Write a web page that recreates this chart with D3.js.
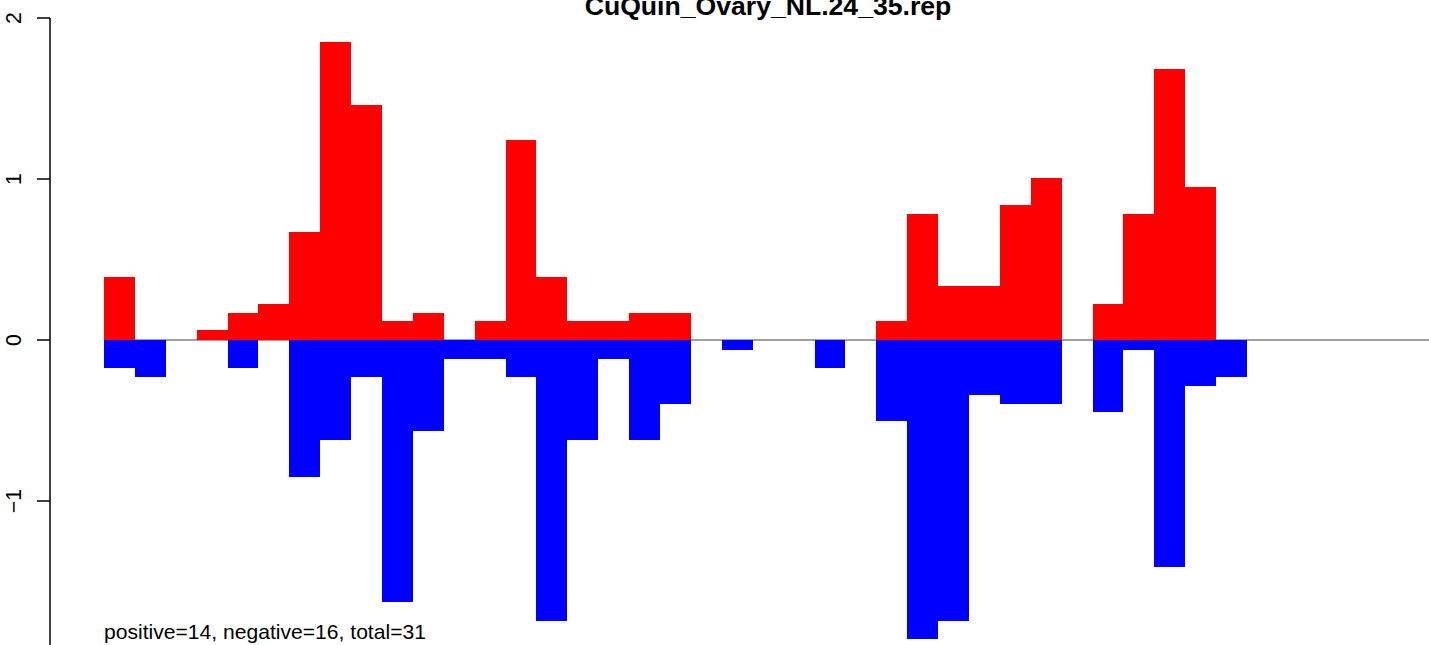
<!DOCTYPE html>
<html>
<head>
<meta charset="utf-8">
<script src="https://cdn.jsdelivr.net/npm/d3@7"></script>
<style>
  html, body { margin: 0; padding: 0; background: #fff; }
  svg { display: block; }
</style>
</head>
<body>
<svg id="chart" width="1429" height="645"></svg>
<script>
const title = "CuQuin_Ovary_NL.24_35.rep";
const footnote = "positive=14, negative=16, total=31";
const categories = d3.range(1, 38);
const positiveValues = [0.39,0,0,0.06,0.17,0.225,0.67,1.85,1.46,0.115,0.17,0,0.115,1.24,0.39,0.115,0.115,0.17,0.17,0,0,0,0,0,0,0.115,0.78,0.335,0.335,0.84,1.005,0,0.225,0.78,1.685,0.95,0];
const negativeValues = [-0.175,-0.23,0,0,-0.175,0,-0.85,-0.62,-0.23,-1.63,-0.565,-0.115,-0.115,-0.23,-1.745,-0.62,-0.115,-0.62,-0.395,0,-0.06,0,0,-0.175,0,-0.505,-1.855,-1.745,-0.34,-0.395,-0.395,0,-0.45,-0.06,-1.41,-0.285,-0.23];
const yTicks = [-1, 0, 1, 2];
const yTickLabels = ["\u22121", "0", "1", "2"];

const svg = d3.select("#chart");
const font = "'Liberation Sans', Arial, Helvetica, sans-serif";

const x = d3.scaleBand().domain(categories).range([104, 1247]).padding(0);
const y = d3.scaleLinear().domain([-1, 2]).range([501, 18]);

// zero reference line
svg.append("line")
  .attr("x1", x(categories[0])).attr("x2", 1429)
  .attr("y1", y(0)).attr("y2", y(0))
  .attr("stroke", "#808080").attr("stroke-width", 1.5);

// negative bars
svg.append("g").selectAll("rect")
  .data(categories.map((c, i) => ({c, v: negativeValues[i]})).filter(d => d.v !== 0))
  .join("rect")
  .attr("x", d => x(d.c))
  .attr("width", x.bandwidth())
  .attr("y", y(0))
  .attr("height", d => y(d.v) - y(0))
  .attr("fill", "#0000ff")
  .attr("shape-rendering", "crispEdges");

// positive bars
svg.append("g").selectAll("rect")
  .data(categories.map((c, i) => ({c, v: positiveValues[i]})).filter(d => d.v !== 0))
  .join("rect")
  .attr("x", d => x(d.c))
  .attr("width", x.bandwidth())
  .attr("y", d => y(d.v))
  .attr("height", d => y(0) - y(d.v))
  .attr("fill", "#ff0000")
  .attr("shape-rendering", "crispEdges");

// y axis
const axisG = svg.append("g").attr("transform", "translate(50,0)");
axisG.append("line")
  .attr("x1", 0).attr("x2", 0)
  .attr("y1", y(2)).attr("y2", y(-2))
  .attr("stroke", "#000").attr("stroke-width", 1.5);
const ticks = axisG.selectAll("g.tick").data(yTicks).join("g").attr("class", "tick");
ticks.append("line")
  .attr("x1", -13).attr("x2", 0)
  .attr("y1", d => y(d)).attr("y2", d => y(d))
  .attr("stroke", "#000").attr("stroke-width", 1.5);
ticks.append("text")
  .attr("transform", d => `translate(-29.5,${y(d)}) rotate(-90)`)
  .attr("text-anchor", "middle")
  .attr("font-family", font)
  .attr("font-size", 21.3)
  .attr("fill", "#000")
  .text((d, i) => yTickLabels[i]);

// title
svg.append("text")
  .attr("x", 768).attr("y", 15)
  .attr("text-anchor", "middle")
  .attr("font-family", font)
  .attr("font-weight", "bold")
  .attr("font-size", 26.6)
  .attr("fill", "#000")
  .text(title);

// footnote
svg.append("text")
  .attr("x", 104).attr("y", 639)
  .attr("font-family", font)
  .attr("font-size", 21.1)
  .attr("fill", "#000")
  .text(footnote);
</script>
</body>
</html>
